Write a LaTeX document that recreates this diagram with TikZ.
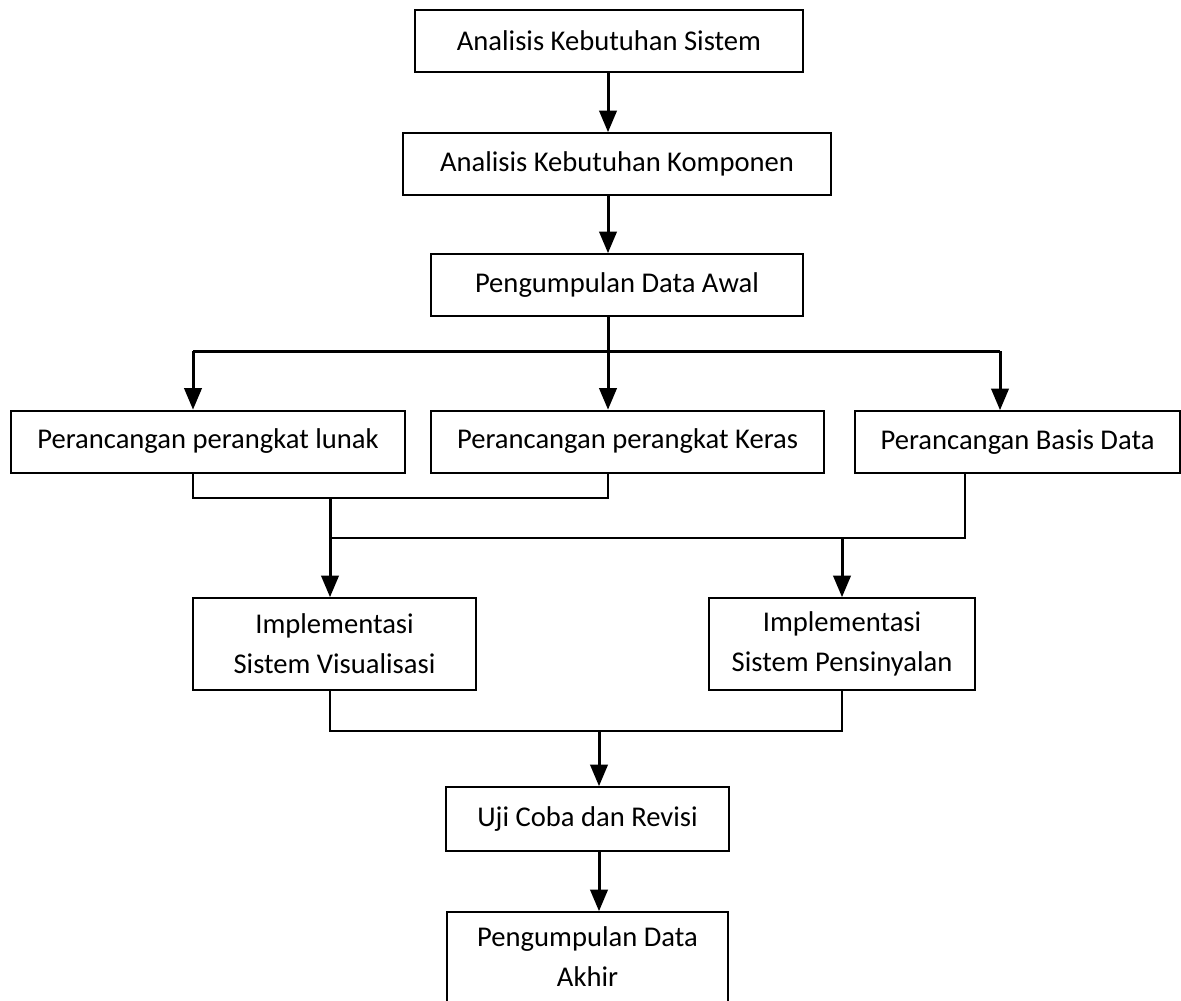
\documentclass[tikz,border=0pt]{standalone}
\usepackage{fontspec}
\setmainfont{Carlito}
\usepackage{tikz}
\usetikzlibrary{positioning,arrows}
\tikzset {
kotak/.style={shape=rectangle,draw,line width=1pt,inner sep=0pt,minimum height=31pt,align=center,font=\fontsize{14.3}{20}\selectfont},
panah/.style={->,line width=1.5pt},
garis/.style={line width=1pt}
}

\begin{document}
\begin{tikzpicture}
[>=triangle 45,x=0.5pt,y=-0.5pt]
\useasboundingbox (0,0) rectangle (1181,1000);
\node (sistem) at (609,41) [kotak,minimum width=194pt] {Analisis Kebutuhan Sistem};
\node (komponen) at (617,164) [kotak,minimum width=214pt] {Analisis Kebutuhan Komponen};
\node (awal) at (617,285) [kotak,minimum width=186pt] {Pengumpulan Data Awal};
\node (lunak) at (208,441.5) [kotak,minimum width=197pt] {Perancangan perangkat lunak};
\node (keras) at (627.5,441.5) [kotak,minimum width=196.5pt] {Perancangan perangkat Keras};
\node (basis) at (1017.5,442) [kotak,minimum width=162.5pt] {Perancangan Basis Data};
\node (visual) at (334.5,644) [kotak,minimum width=141.5pt,minimum height=46pt] {Implementasi\\Sistem Visualisasi};
\node (sinyal) at (842,644) [kotak,minimum width=133pt,minimum height=46pt] {Implementasi\\Sistem Pensinyalan};
\node (uji) at (587.5,819) [kotak,minimum width=141.5pt,minimum height=32pt] {Uji Coba dan Revisi};
\node (akhir) at (587.5,957) [kotak,minimum width=140.5pt,minimum height=45pt] {Pengumpulan Data\\Akhir};
\coordinate (bagi) at (608,351);
\coordinate (bagiL) at (193,351);
\coordinate (bagiR) at (1000,351);
\coordinate (gabung1) at (330,498);
\coordinate (gabung2) at (330,538);
\coordinate (gabung3) at (599,731);
\draw[panah] (bagi |- sistem.south) -- (bagi |- komponen.north);
\draw[panah] (bagi |- komponen.south) -- (bagi |- awal.north);
\draw[line width=1.5pt] (bagi |- awal.south) -- (bagi);
\draw[line width=1.5pt] (bagiL) -- (bagiR);
\draw[panah] (bagiL) -- (bagiL |- lunak.north);
\draw[panah] (bagi) -- (bagi |- keras.north);
\draw[panah] (bagiR) -- (bagiR |- basis.north);
\draw[garis] (bagiL |- lunak.south) |- (gabung1) -| (bagi |- keras.south);
\draw[panah] (gabung1) -- (gabung1 |- visual.north);
\draw[garis] (gabung2) -| ([xshift=-26.25pt]basis.south);
\draw[panah] (sinyal.north |- gabung2) -- (sinyal.north);
\draw[garis] (gabung1 |- visual.south) |- (gabung3) -| (sinyal.south);
\draw[panah] (gabung3) -- (gabung3 |- uji.north);
\draw[panah] (gabung3 |- uji.south) -- (gabung3 |- akhir.north);
\end{tikzpicture}
\end{document}
